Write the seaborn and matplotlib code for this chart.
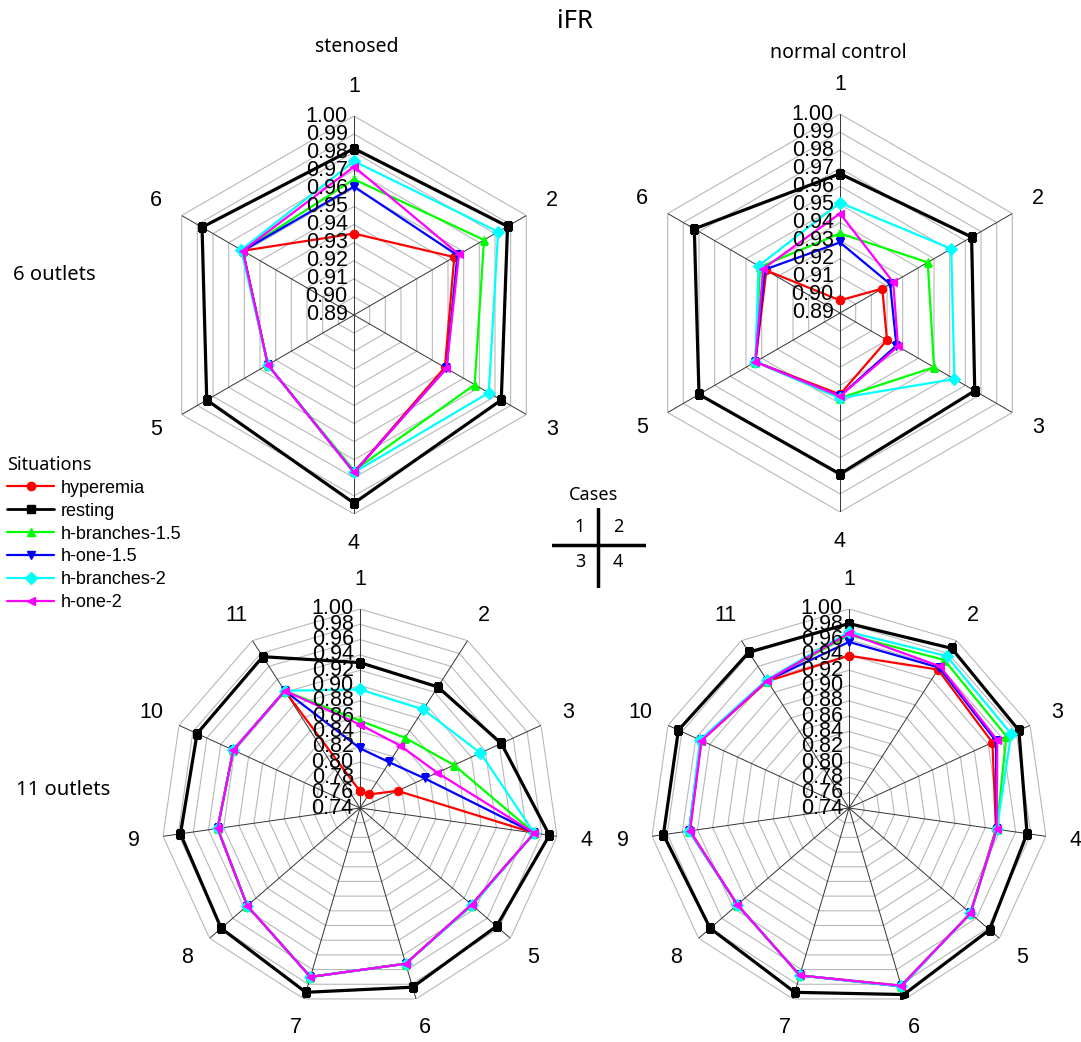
import numpy as np
import matplotlib
matplotlib.use("Agg")
import matplotlib.pyplot as plt
from matplotlib.lines import Line2D
import seaborn as sns

# series names and styles
situations = ["hyperemia", "resting", "h-branches-1.5", "h-one-1.5", "h-branches-2", "h-one-2"]
colors = ["#ff0000", "#000000", "#00ff00", "#0000ff", "#00ffff", "#ff00ff"]
markers = ["o", "s", "^", "v", "D", "<"]

# case 1: stenosed, 6 outlets
sten6_hyperemia = [0.935, 0.954, 0.948, 0.977, 0.945, 0.961]
sten6_resting = [0.982, 0.988, 0.984, 0.994, 0.984, 0.987]
sten6_hb15 = [0.965, 0.973, 0.967, 0.976, 0.945, 0.961]
sten6_ho15 = [0.961, 0.956, 0.949, 0.977, 0.945, 0.961]
sten6_hb2 = [0.975, 0.982, 0.976, 0.977, 0.945, 0.962]
sten6_ho2 = [0.972, 0.957, 0.949, 0.977, 0.945, 0.961]

# case 2: normal control, 6 outlets
norm6_hyperemia = [0.897, 0.917, 0.920, 0.935, 0.944, 0.937]
norm6_resting = [0.967, 0.974, 0.976, 0.979, 0.980, 0.983]
norm6_hb15 = [0.934, 0.946, 0.950, 0.937, 0.944, 0.941]
norm6_ho15 = [0.929, 0.922, 0.926, 0.936, 0.944, 0.938]
norm6_hb2 = [0.951, 0.961, 0.963, 0.937, 0.944, 0.942]
norm6_ho2 = [0.945, 0.924, 0.927, 0.936, 0.944, 0.939]

# case 3: stenosed, 11 outlets
sten11_hyperemia = [0.762, 0.761, 0.794, 0.970, 0.933, 0.952, 0.970, 0.935, 0.928, 0.922, 0.922]
sten11_resting = [0.930, 0.928, 0.943, 0.990, 0.976, 0.984, 0.991, 0.980, 0.977, 0.974, 0.975]
sten11_hb15 = [0.854, 0.849, 0.875, 0.970, 0.934, 0.952, 0.970, 0.935, 0.928, 0.922, 0.922]
sten11_ho15 = [0.818, 0.811, 0.833, 0.970, 0.933, 0.952, 0.970, 0.935, 0.928, 0.922, 0.922]
sten11_hb2 = [0.895, 0.893, 0.913, 0.970, 0.934, 0.952, 0.970, 0.935, 0.928, 0.922, 0.922]
sten11_ho2 = [0.849, 0.837, 0.851, 0.970, 0.933, 0.952, 0.970, 0.935, 0.928, 0.922, 0.922]

# case 4: normal control, 11 outlets
norm11_hyperemia = [0.939, 0.955, 0.946, 0.934, 0.950, 0.982, 0.968, 0.933, 0.950, 0.952, 0.937]
norm11_resting = [0.981, 0.988, 0.984, 0.975, 0.983, 0.994, 0.991, 0.980, 0.985, 0.985, 0.982]
norm11_hb15 = [0.966, 0.970, 0.966, 0.935, 0.950, 0.982, 0.968, 0.933, 0.951, 0.953, 0.938]
norm11_ho15 = [0.957, 0.958, 0.951, 0.935, 0.950, 0.983, 0.968, 0.933, 0.951, 0.953, 0.938]
norm11_hb2 = [0.970, 0.976, 0.973, 0.935, 0.950, 0.983, 0.968, 0.933, 0.951, 0.954, 0.939]
norm11_ho2 = [0.968, 0.960, 0.953, 0.935, 0.950, 0.982, 0.968, 0.933, 0.950, 0.952, 0.938]

ticks6 = [0.89, 0.90, 0.91, 0.92, 0.93, 0.94, 0.95, 0.96, 0.97, 0.98, 0.99, 1.00]
ticks11 = [0.74, 0.76, 0.78, 0.80, 0.82, 0.84, 0.86, 0.88, 0.90, 0.92, 0.94, 0.96, 0.98, 1.00]

sns.set_theme(style="white")
plt.rcParams["font.family"] = ["Liberation Sans", "DejaVu Sans"]
plt.rcParams["text.color"] = "black"

fig = plt.figure(figsize=(10.81, 10.42), dpi=100)
W, H = 1081, 1042


def radar(center, radius, series, ticks):
    cx, cy = center
    ax = fig.add_axes([(cx - radius) / W, (H - cy - radius) / H, 2 * radius / W, 2 * radius / H],
                      projection="polar")
    n = len(series[0])
    theta = np.linspace(0, 2 * np.pi, n, endpoint=False)
    closed = np.append(theta, theta[0] + 2 * np.pi)
    rmin, rmax = ticks[0], ticks[-1]
    ax.set_theta_zero_location("N")
    ax.set_theta_direction(-1)
    ax.grid(False)
    ax.spines["polar"].set_visible(False)
    ax.patch.set_visible(False)
    ax.set_xticks([])
    ax.set_yticks([])

    for t in ticks[1:]:
        ax.plot(closed, [t] * (n + 1), color="#b8b8b8", lw=0.8, zorder=1)
    for th in theta:
        ax.plot([th, th], [rmin, rmax], color="#333333", lw=0.7, zorder=1)

    for vals, c, m, name in zip(series, colors, markers, situations):
        lw = 2.3 if name == "resting" else 1.6
        sns.lineplot(x=closed, y=np.append(vals, vals[0]), ax=ax, sort=False, estimator=None,
                     color=c, marker=m, markersize=6, markeredgecolor=c, lw=lw, zorder=3)

    for t in ticks:
        ax.annotate(f"{t:.2f}", xy=(0, t), xytext=(-4.5, 0), textcoords="offset points",
                    ha="right", va="center", fontsize=15.5, color="black", zorder=4)
    rlab = rmin + 1.15 * (rmax - rmin)
    for i, th in enumerate(theta):
        ax.text(th, rlab, str(i + 1), ha="center", va="center", fontsize=15.5, color="black")
    ax.set_ylim(rmin, rmax)
    ax.set_xlabel("")
    ax.set_ylabel("")
    return ax


radar((354, 315), 199, [sten6_hyperemia, sten6_resting, sten6_hb15, sten6_ho15, sten6_hb2, sten6_ho2], ticks6)
radar((840, 313), 199, [norm6_hyperemia, norm6_resting, norm6_hb15, norm6_ho15, norm6_hb2, norm6_ho2], ticks6)
radar((360, 808), 199, [sten11_hyperemia, sten11_resting, sten11_hb15, sten11_ho15, sten11_hb2, sten11_ho2], ticks11)
radar((849, 808), 199, [norm11_hyperemia, norm11_resting, norm11_hb15, norm11_ho15, norm11_hb2, norm11_ho2], ticks11)

head = ["Noto Sans", "DejaVu Sans"]
fig.text(575 / W, 1 - 22 / H, "iFR", ha="center", va="center", fontsize=18.5, family=head)
fig.text(357 / W, 1 - 47 / H, "stenosed", ha="center", va="center", fontsize=14, family=head)
fig.text(838 / W, 1 - 53 / H, "normal control", ha="center", va="center", fontsize=14, family=head)
fig.text(13 / W, 1 - 275 / H, "6 outlets", ha="left", va="center", fontsize=14.5, family=head)
fig.text(16 / W, 1 - 790 / H, "11 outlets", ha="left", va="center", fontsize=14.5, family=head)

# legend
handles = [Line2D([], [], color=c, marker=m, markersize=6, lw=2.0 if s == "resting" else 1.6)
           for c, m, s in zip(colors, markers, situations)]
leg = fig.legend(handles, situations, loc="upper left", bbox_to_anchor=(-0.005, 1 - 443 / H),
                 frameon=False, title="Situations", alignment="left", fontsize=13,
                 handlelength=2.6, handletextpad=0.35, labelspacing=0.33, borderpad=0.2,
                 title_fontproperties={"family": head, "size": 13})

# cases key
kx = fig.add_axes([552 / W, (H - 588) / H, 94 / W, 80 / H])
kx.axis("off")
kx.axhline(0.54, color="black", lw=2.5)
kx.axvline(0.49, color="black", lw=2.5)
fig.text(594 / W, 1 - 495 / H, "Cases", ha="center", va="center", fontsize=13, family=head)
for lab, px, py in [("1", 580, 527), ("2", 618, 527), ("3", 580, 562), ("4", 618, 562)]:
    fig.text(px / W, 1 - py / H, lab, ha="center", va="center", fontsize=13, family=head)

fig.savefig("out.png", dpi=100)
